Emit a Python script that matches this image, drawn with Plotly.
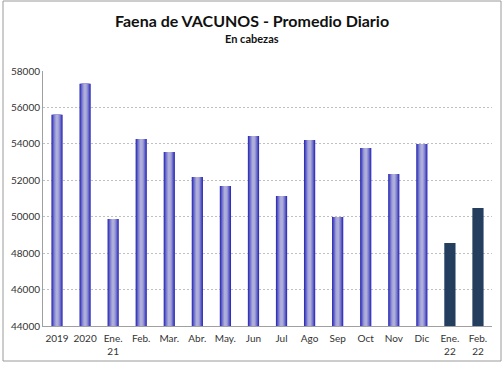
import plotly.graph_objects as go

categories = ["2019", "2020", "Ene.<br>21", "Feb.", "Mar.", "Abr.", "May.", "Jun", "Jul",
              "Ago", "Sep", "Oct", "Nov", "Dic", "Ene.<br>22", "Feb.<br>22"]
values = [55600, 57300, 49870, 54270, 53550, 52180, 51680, 54430, 51140,
          54210, 49980, 53770, 52340, 53990, 48560, 50480]
highlight = [False] * 14 + [True, True]

y_ticks = [44000, 46000, 48000, 50000, 52000, 54000, 56000, 58000]

title_text = "Faena de VACUNOS - Promedio Diario"
subtitle_text = "En cabezas"

# layered bars to imitate horizontal gradient (edge -> center)
layers = [
    (0.40, "#2c2cb4"),
    (0.34, "#4c4cc2"),
    (0.27, "#7070cc"),
    (0.19, "#9494d4"),
    (0.10, "#aeaedb"),
]
dark = "#253f5f"

fig = go.Figure()
for w, c in layers:
    fig.add_trace(go.Bar(
        x=categories, y=values,
        width=[w] * len(values),
        marker=dict(color=[dark if h else c for h in highlight], line=dict(width=0)),
        showlegend=False, hoverinfo="skip",
    ))

L, R, T, B = 43, 12, 71, 42
PW, PH = 504 - L - R, 368 - T - B

def px(x):
    return (x - L) / PW

def py(y):
    return (368 - B - y) / PH

fig.update_layout(
    width=504, height=368,
    barmode="overlay",
    plot_bgcolor="white", paper_bgcolor="white",
    margin=dict(l=L, r=R, t=T, b=B),
    font=dict(family="Lato, Carlito, Open Sans, sans-serif", color="#222"),
    xaxis=dict(
        showline=True, linecolor="#a0a0a0", linewidth=1,
        tickfont=dict(size=10, color="#333"), ticks="",
        ticklabelstandoff=3,
        showgrid=False,
    ),
    yaxis=dict(
        range=[44000, 58000], tickvals=y_ticks, ticktext=[str(v) for v in y_ticks],
        showline=True, linecolor="#a0a0a0", linewidth=1,
        gridcolor="#c0c0c0", griddash="2px,2px", gridwidth=1,
        tickfont=dict(size=10, color="#333"), ticks="",
        zeroline=False,
    ),
    annotations=[
        dict(text="<b>" + title_text + "</b>", xref="paper", yref="paper",
             x=px(252), y=py(20), xanchor="center", yanchor="middle",
             showarrow=False, font=dict(size=16, color="#111")),
        dict(text="<b>" + subtitle_text + "</b>", xref="paper", yref="paper",
             x=px(252), y=py(38), xanchor="center", yanchor="middle",
             showarrow=False, font=dict(size=11, color="#111")),
    ],
    shapes=[dict(
        type="rect", xref="paper", yref="paper",
        x0=px(3), x1=px(501), y0=py(361), y1=py(1),
        line=dict(color="#9a9a9a", width=1), fillcolor="rgba(0,0,0,0)", layer="below",
    )],
)

fig.write_html("out.html", config={"displayModeBar": False},
               post_script="document.body.style.margin='0';document.body.style.overflow='hidden';")
